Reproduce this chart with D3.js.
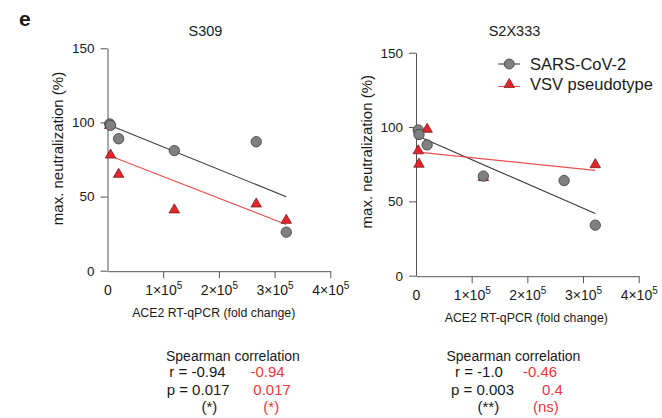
<!DOCTYPE html>
<html>
<head>
<meta charset="utf-8">
<script src="https://cdn.jsdelivr.net/npm/d3@7"></script>
<style>
  body { margin: 0; background: #fff; }
  svg { display: block; }
  text { font-family: "Liberation Sans", Arial, Helvetica, sans-serif; fill: #1a1a1a; }
</style>
</head>
<body>
<svg id="fig" width="662" height="418"></svg>
<script>
// ACE2 RT-qPCR fold change of each cell line and the maximal neutralization reached
const s309SarsX = [4000, 5400, 20000, 120000, 267000, 321000];
const s309SarsY = [99, 98, 89, 81, 87, 26];
const s309VsvX  = [4000, 5400, 20000, 120000, 267000, 321000];
const s309VsvY  = [98, 78, 65, 41, 45, 34];

const s2x333SarsX = [4000, 5400, 20000, 121000, 266000, 322000];
const s2x333SarsY = [98, 95, 88, 67, 64, 34];
const s2x333VsvX  = [4000, 5400, 20000, 121000, 322000];
const s2x333VsvY  = [84, 75, 98.5, 66, 74.7];

const xTicks = [0, 100000, 200000, 300000, 400000];
const xTickLabels = ["0", "1×10^5", "2×10^5", "3×10^5", "4×10^5"];
const yTicks = [0, 50, 100, 150];

const seriesNames = ["SARS-CoV-2", "VSV pseudotype"];
const statHeader = "Spearman correlation";
const s309StatsSars = ["r = -0.94", "p = 0.017", "(*)"];
const s309StatsVsv  = ["-0.94", "0.017", "(*)"];
const s2x333StatsSars = ["r = -1.0", "p = 0.003", "(**)"];
const s2x333StatsVsv  = ["-0.46", "0.4", "(ns)"];

const GREY = "#808080", GREY_EDGE = "#3c3c3c", LINE_DARK = "#3a3a3a";
const RED = "#e3262b", RED_EDGE = "#6a1414", LINE_RED = "#ea5050", TEXT_RED = "#e8393a";

const svg = d3.select("#fig");

// panel letter
svg.append("text").attr("x", 19).attr("y", 26)
  .attr("font-size", 21).attr("font-weight", "bold").text("e");

// least-squares line through a series
function fit(xs, ys) {
  const mx = d3.mean(xs), my = d3.mean(ys);
  let sxy = 0, sxx = 0;
  xs.forEach((x, i) => { sxy += (x - mx) * (ys[i] - my); sxx += (x - mx) * (x - mx); });
  const b = sxy / sxx;
  return x => my + b * (x - mx);
}

const triangle = d3.symbol().type(d3.symbolTriangle).size(48);

function panel(cfg) {
  const x = d3.scaleLinear().domain([0, 400000]).range([cfg.left, cfg.right]);
  const y = d3.scaleLinear().domain([0, 150]).range([cfg.bottom, cfg.top]);
  const g = svg.append("g");

  // title
  g.append("text").attr("x", cfg.titleX).attr("y", 36).attr("text-anchor", "middle")
    .attr("font-size", 14.5).text(cfg.title);

  // y axis
  const ya = g.append("g").attr("transform", `translate(${cfg.left},0)`)
    .call(d3.axisLeft(y).tickValues(yTicks).tickSize(7).tickPadding(6).tickSizeOuter(0));
  ya.select(".domain").attr("stroke", "#555");
  ya.selectAll(".tick line").attr("stroke", "#555");
  ya.selectAll(".tick text").attr("font-size", 13.5).attr("fill", "#1a1a1a")
    .attr("font-family", "'Liberation Sans', Arial, sans-serif");

  // x axis with powers of ten written as superscripts
  const xa = g.append("g").attr("transform", `translate(0,${cfg.bottom + 0.5})`)
    .call(d3.axisBottom(x).tickValues(xTicks).tickSize(7).tickPadding(6).tickSizeOuter(0));
  xa.select(".domain").attr("stroke", "#555");
  xa.selectAll(".tick line").attr("stroke", "#555").attr("opacity", d => d === 0 ? 0 : 1);
  xa.selectAll(".tick text").each(function (d, i) {
    const t = d3.select(this).text("").attr("font-size", 14).attr("fill", "#1a1a1a")
      .attr("font-family", "'Liberation Sans', Arial, sans-serif")
      .attr("dy", null).attr("y", 23.5);
    const parts = xTickLabels[i].split("^");
    t.append("tspan").text(parts[0]);
    if (parts[1]) t.append("tspan").attr("font-size", 10).attr("dy", -5.5).text(parts[1]);
  });

  // axis labels
  g.append("text").attr("transform", `translate(${cfg.ylabX},${cfg.ylabY}) rotate(-90)`)
    .attr("text-anchor", "middle").attr("font-size", 15).text("max. neutralization (%)");
  g.append("text").attr("x", cfg.xlabX).attr("y", cfg.xlabY).attr("text-anchor", "middle")
    .attr("font-size", 12.3).text("ACE2 RT-qPCR (fold change)");

  // regression lines
  const lines = [
    { xs: cfg.sarsX, ys: cfg.sarsY, color: LINE_DARK, w: 1.1 },
    { xs: cfg.vsvX, ys: cfg.vsvY, color: LINE_RED, w: 1.1 }
  ];
  lines.forEach(l => {
    const f = fit(l.xs, l.ys);
    const [x0, x1] = d3.extent(l.xs);
    g.append("line").attr("x1", x(x0)).attr("y1", y(f(x0)))
      .attr("x2", x(x1)).attr("y2", y(f(x1)))
      .attr("stroke", l.color).attr("stroke-width", l.w);
  });

  // VSV pseudotype triangles
  g.selectAll(".tri").data(cfg.vsvX).join("path").attr("class", "tri")
    .attr("d", triangle)
    .attr("transform", (d, i) => `translate(${x(d)},${y(cfg.vsvY[i])})`)
    .attr("fill", RED).attr("stroke", RED_EDGE).attr("stroke-width", 0.7);

  // SARS-CoV-2 circles
  g.selectAll(".dot").data(cfg.sarsX).join("circle").attr("class", "dot")
    .attr("cx", d => x(d)).attr("cy", (d, i) => y(cfg.sarsY[i])).attr("r", 5.2)
    .attr("fill", GREY).attr("stroke", GREY_EDGE).attr("stroke-width", 0.8);

  // Spearman statistics
  g.append("text").attr("x", cfg.statX).attr("y", 361).attr("font-size", 14).text(statHeader);
  const rows = [377.3, 395.3, 412.3];
  cfg.statsSars.forEach((s, i) => {
    g.append("text").attr("x", cfg.sarsStatPos[i]).attr("y", rows[i]).attr("font-size", 15).text(s);
  });
  cfg.statsVsv.forEach((s, i) => {
    g.append("text").attr("x", cfg.vsvStatPos[i]).attr("y", rows[i]).attr("font-size", 15)
      .style("fill", TEXT_RED).text(s);
  });
  return { x, y };
}

panel({
  title: "S309", titleX: 205.5,
  left: 107.5, right: 330.3, top: 48.3, bottom: 270.7,
  ylabX: 63, ylabY: 148.5, xlabX: 213.7, xlabY: 316.7,
  sarsX: s309SarsX, sarsY: s309SarsY, vsvX: s309VsvX, vsvY: s309VsvY,
  statX: 166, statsSars: s309StatsSars, statsVsv: s309StatsVsv,
  sarsStatPos: [169.3, 166.7, 201.5], vsvStatPos: [250.5, 253.3, 263.3]
});

panel({
  title: "S2X333", titleX: 514.5,
  left: 416, right: 638.7, top: 52.7, bottom: 275.7,
  ylabX: 372, ylabY: 151.7, xlabX: 526.3, xlabY: 321.7,
  sarsX: s2x333SarsX, sarsY: s2x333SarsY, vsvX: s2x333VsvX, vsvY: s2x333VsvY,
  statX: 446.5, statsSars: s2x333StatsSars, statsVsv: s2x333StatsVsv,
  sarsStatPos: [455, 451, 477.5], vsvStatPos: [523, 542, 533]
});

// legend
const legend = svg.append("g");
const legendRows = [64, 84.5];
legend.append("line").attr("x1", 498.3).attr("x2", 520).attr("y1", legendRows[0]).attr("y2", legendRows[0])
  .attr("stroke", LINE_DARK).attr("stroke-width", 1.1);
legend.append("circle").attr("cx", 509.3).attr("cy", legendRows[0]).attr("r", 5)
  .attr("fill", GREY).attr("stroke", GREY_EDGE).attr("stroke-width", 0.8);
legend.append("line").attr("x1", 498.3).attr("x2", 520).attr("y1", legendRows[1] + 2).attr("y2", legendRows[1] + 2)
  .attr("stroke", LINE_RED).attr("stroke-width", 1.1);
legend.append("path").attr("d", triangle).attr("transform", `translate(509.3,${legendRows[1]})`)
  .attr("fill", RED).attr("stroke", RED_EDGE).attr("stroke-width", 0.7);
seriesNames.forEach((n, i) => {
  legend.append("text").attr("x", 530).attr("y", legendRows[i] + 5.8).attr("font-size", 16.5).text(n);
});
</script>
</body>
</html>
